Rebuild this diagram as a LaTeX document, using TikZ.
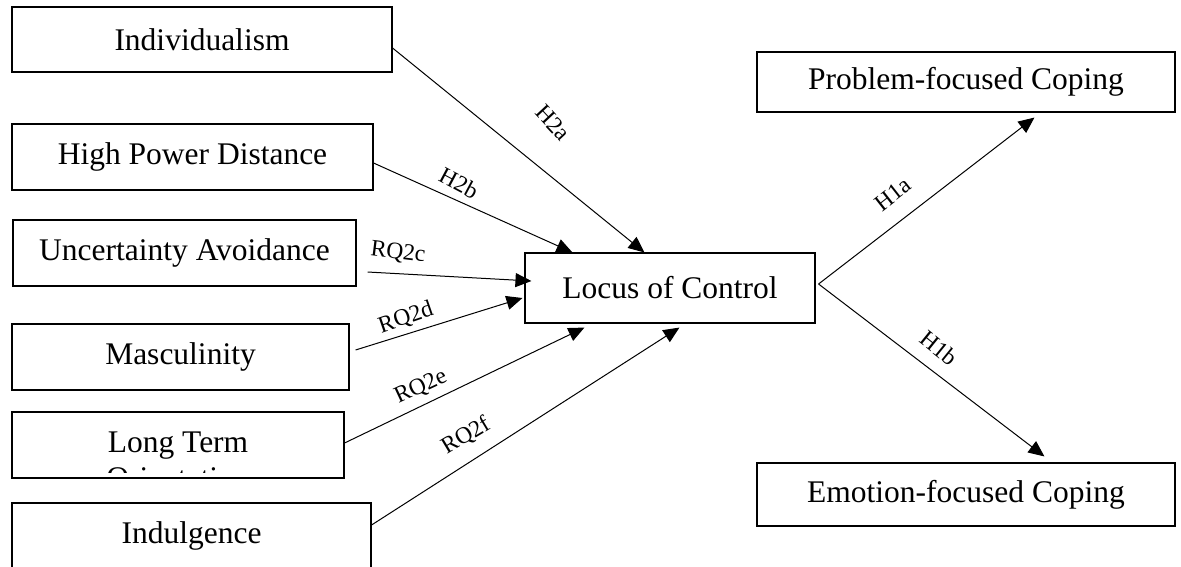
\documentclass[tikz,border=0pt]{standalone}
\usepackage{fontspec}
\setmainfont{Liberation Serif}
\usetikzlibrary{arrows.meta,calc}
\begin{document}
\begin{tikzpicture}[x=1pt,y=-1pt,
  box/.style={draw, line width=1.1pt, inner sep=0pt, font=\fontsize{31.5}{37}\selectfont},
  link/.style={line width=1pt, -{Triangle[length=16pt,width=14pt]}},
  lbl/.style={inner sep=0pt, font=\fontsize{23.5}{28}\selectfont}]
\useasboundingbox (0,0) rectangle (1181,566);
\clip (0,0) rectangle (1181,566);

% cultural dimensions (left column)
\node[box, minimum width=380pt, minimum height=65pt] (ind) at (202,39.5) {Individualism};
\node[box, minimum width=361pt, minimum height=66pt] (hpd) at (192.5,157) {High Power Distance};
\node[box, minimum width=343pt, minimum height=66pt] (ua) at (184.5,253) {Uncertainty Avoidance};
\node[box, minimum width=337pt, minimum height=66pt] (mas) at (180.5,357) {Masculinity};
\node[box, minimum width=332pt, minimum height=66pt] (lto) at (178,445) {};
\begin{scope}
  % the text frame cuts the second line just inside the border
  \clip ($(lto.north west)+(2,2)$) rectangle ($(lto.south east)+(-2,-6)$);
  \node[lbl, anchor=base, font=\fontsize{31.5}{37}\selectfont] (ltoa) at (178,452) {Long Term};
  \node[lbl, anchor=base, font=\fontsize{31.5}{37}\selectfont] (ltob) at (178,488.5) {Orientation};
\end{scope}
\node[box, minimum width=359pt, minimum height=66pt] (indul) at (191.5,536) {Indulgence};

% mediator and outcomes
\node[box, minimum width=290pt, minimum height=70pt] (loc) at (670,288) {Locus of Control};
\node[box, minimum width=418pt, minimum height=60pt] (pfc) at (966,82) {Problem-focused Coping};
\node[box, minimum width=418pt, minimum height=63pt] (efc) at (966,494.5) {Emotion-focused Coping};

% paths into locus of control
\draw[link] ($(ind.east)+(0,8.5)$) -- ($(loc.north west)+(120,0)$);
\draw[link] ($(hpd.east)+(0,6)$) -- ($(loc.north west)+(48,0)$);
\coordinate (uastart) at ($(ua.east)+(11,19)$);
\draw[link] (uastart) -- ($(loc.west)+(7,-7)$);
\draw[link] ($(mas.east)+(6,-7)$) -- ($(loc.west)+(-2,10)$);
\draw[link] ($(lto.east)+(0,-2)$) -- ($(loc.south west)+(60,4)$);
\draw[link] ($(indul.east)+(0,-11)$) -- ($(loc.south west)+(155,4)$);

% paths out of locus of control
\coordinate (locout) at ($(loc.east)+(3,-4)$);
\draw[link] (locout) -- ($(pfc.south west)+(278,5)$);
\draw[link] (locout) -- ($(efc.north west)+(288,-6)$);

% path labels
\node[lbl, rotate=-47] (lh2a) at (553,123) {H2a};
\node[lbl, rotate=-28] (lh2b) at (459,183) {H2b};
\node[lbl, rotate=-7] (lrq2c) at (398,253) {RQ2c};
\node[lbl, rotate=19] (lrq2d) at (406,318) {RQ2d};
\node[lbl, rotate=25] (lrq2e) at (421,387) {RQ2e};
\node[lbl, rotate=31] (lrq2f) at (466,436) {RQ2f};
\node[lbl, rotate=38] (lh1a) at (893,194) {H1a};
\node[lbl, rotate=-39] (lh1b) at (939,348) {H1b};
\end{tikzpicture}
\end{document}
